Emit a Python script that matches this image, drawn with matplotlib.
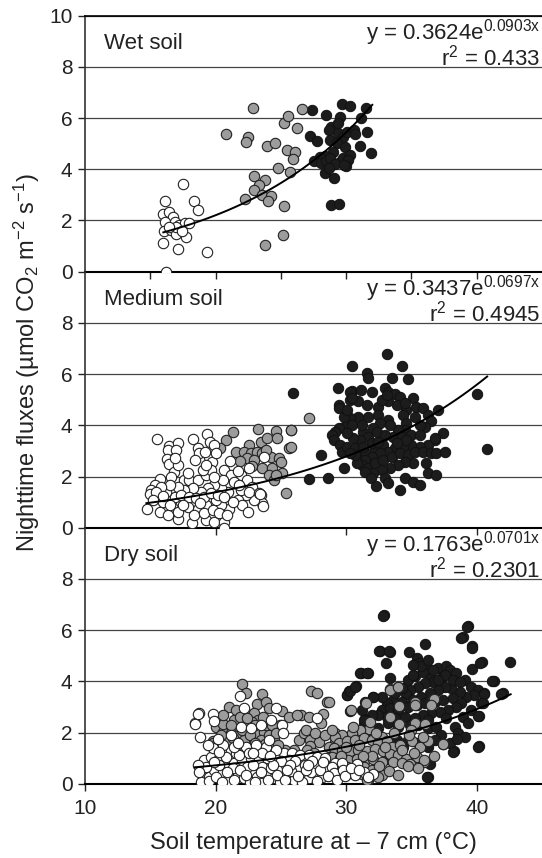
import numpy as np
import matplotlib
matplotlib.use("Agg")
import matplotlib.pyplot as plt

plt.rcParams['font.family'] = ['Liberation Sans', 'DejaVu Sans']
plt.rcParams['mathtext.fontset'] = 'custom'
plt.rcParams['mathtext.rm'] = 'Liberation Sans'
plt.rcParams['mathtext.it'] = 'Liberation Sans:italic'

# ---- data ----
# wet soil
wet_open = [(16.16, 2.76), (17.47, 3.44), (18.34, 2.76), (18.65, 2.40), (15.98, 2.24), (16.42, 2.32),
            (16.74, 2.15), (16.11, 1.95), (16.89, 1.95), (17.21, 1.82), (17.65, 1.91), (17.99, 1.91),
            (16.03, 1.59), (16.55, 1.63), (16.95, 1.46), (17.73, 1.37), (15.98, 1.13), (17.10, 0.87),
            (19.31, 0.78), (16.24, 0.0), (17.0, 1.76), (16.4, 1.75), (17.4, 1.6)]
wet_grey = [(20.83, 5.36), (22.84, 6.41), (22.45, 5.25), (22.35, 5.05), (23.97, 4.92), (24.55, 5.01),
            (25.26, 5.79), (25.54, 6.09), (26.64, 6.37), (26.25, 5.60), (25.44, 4.75), (26.12, 4.66),
            (25.91, 4.40), (24.81, 4.04), (25.68, 3.88), (22.92, 3.75), (23.76, 3.58), (23.32, 3.39),
            (22.98, 3.19), (23.55, 2.99), (24.28, 2.96), (22.27, 2.83), (24.02, 2.77), (25.26, 2.58),
            (25.20, 1.42), (23.81, 1.05)]
wet_black = [(27.38, 6.32), (28.48, 6.11), (29.66, 6.54), (30.26, 6.47), (31.49, 6.38), (29.53, 6.05),
             (31.10, 5.99), (28.87, 5.66), (29.40, 5.79), (28.66, 5.53), (27.22, 5.30), (27.75, 5.09),
             (28.74, 5.14), (29.40, 5.40), (29.79, 5.27), (30.05, 5.47), (30.58, 5.53), (30.71, 5.36),
             (31.63, 5.44), (29.27, 5.01), (29.92, 4.88), (31.05, 4.91), (31.89, 4.65), (29.01, 4.69),
             (28.35, 4.52), (27.96, 4.49), (27.56, 4.32), (28.09, 4.23), (28.48, 4.32), (28.79, 4.43),
             (29.53, 4.30), (29.79, 4.43), (30.31, 4.56), (30.18, 4.36), (29.99, 4.13), (28.35, 3.87),
             (29.14, 4.19), (29.08, 3.65), (28.82, 2.62), (29.48, 2.64), (29.85, 4.17), (28.72, 4.04)]

# medium soil
med_open = [(15.54, 3.45), (16.42, 3.20), (17.11, 3.29), (16.35, 3.03), (16.98, 3.03), (16.30, 2.68),
            (16.40, 2.47), (18.25, 3.46), (19.34, 3.65), (19.60, 3.36), (19.90, 3.23), (18.68, 3.10),
            (18.76, 2.90), (19.52, 2.77), (19.22, 2.97), (19.70, 2.58), (18.43, 2.64), (16.80, 2.19),
            (16.60, 1.99), (15.71, 1.89), (15.33, 1.67), (15.08, 1.47), (14.95, 1.30), (14.77, 0.75),
            (15.71, 0.60), (16.35, 0.49), (17.11, 0.34), (18.18, 0.17), (19.27, 0.30), (19.90, 0.23),
            (20.66, 0.23), (20.62, 0.0), (17.62, 1.86), (18.0, 1.86), (18.63, 1.86), (19.27, 2.06),
            (19.65, 2.25), (20.66, 2.25), (21.17, 2.06), (21.93, 2.06), (21.42, 1.80), (22.44, 1.86),
            (22.82, 1.60), (23.45, 1.28), (23.58, 0.95), (22.95, 1.08), (22.31, 1.28), (21.68, 1.08),
            (22.06, 0.89), (21.04, 0.75), (20.41, 0.89), (20.03, 1.08), (19.27, 0.89), (18.63, 0.75),
            (17.87, 0.82), (17.36, 1.02), (16.86, 1.21), (16.22, 1.41), (15.97, 1.02), (16.48, 0.89),
            (17.11, 0.62), (18.38, 0.49), (19.14, 0.56), (19.77, 0.69), (20.28, 0.56), (21.30, 1.02),
            (20.92, 1.41), (20.41, 1.54), (19.90, 1.67), (19.39, 1.54), (18.89, 1.41), (18.25, 1.54),
            (17.62, 1.47), (17.11, 1.60), (16.48, 1.67), (15.84, 1.60), (15.46, 1.41), (17.36, 1.28),
            (18.0, 1.21), (18.5, 1.15), (19.14, 1.21), (19.65, 1.34), (20.16, 1.28), (20.66, 1.21),
            (21.93, 1.47), (22.57, 1.41), (21.80, 1.67), (20.54, 1.86), (19.90, 1.99), (19.01, 2.25),
            (19.27, 2.45), (21.68, 2.21), (22.57, 2.32), (23.71, 2.77), (23.33, 1.34), (17.11, 2.45),
            (16.86, 2.71), (23.6, 0.85), (23.4, 1.30), (15.2, 1.1), (16.0, 1.25), (17.5, 0.9),
            (18.8, 0.95), (20.9, 0.5), (22.5, 0.6), (17.9, 2.15), (21.1, 2.6), (20.0, 2.9)]
med_grey = [(21.30, 3.75), (23.25, 3.85), (24.60, 3.78), (25.74, 3.81), (20.79, 3.42), (20.36, 3.12),
            (22.57, 3.23), (23.45, 3.36), (23.96, 3.49), (24.72, 3.52), (25.61, 3.12), (21.55, 2.97),
            (22.19, 2.94), (22.69, 2.90), (23.2, 2.97), (23.58, 2.90), (22.44, 2.71), (22.95, 2.64),
            (24.22, 2.77), (24.85, 2.73), (21.88, 2.60), (22.82, 2.42), (23.58, 2.34), (24.34, 2.32),
            (24.98, 2.55), (24.09, 2.06), (24.47, 1.86), (25.1, 2.12), (24.6, 2.06), (25.43, 1.34),
            (23.84, 3.03), (27.13, 4.30), (25.81, 3.82), (25.74, 3.17)]
med_black = [(25.91, 5.28), (33.15, 6.78), (30.43, 6.32), (34.29, 6.33), (31.57, 6.06), (31.65, 5.84),
             (33.48, 5.84), (34.70, 5.80), (29.37, 5.45), (30.43, 5.34), (31.14, 5.38), (31.96, 5.32),
             (32.97, 5.45), (33.22, 5.32), (33.73, 5.21), (34.11, 5.12), (35.13, 5.06), (40.03, 5.21),
             (29.42, 4.80), (29.47, 4.67), (30.31, 4.99), (30.94, 4.93), (31.57, 4.80), (32.46, 4.73),
             (33.22, 4.93), (33.86, 4.80), (34.62, 4.60), (35.38, 4.73), (35.89, 4.67), (37.03, 4.60),
             (36.27, 4.41), (35.25, 4.34), (34.37, 4.41), (33.22, 4.21), (32.46, 4.41), (31.70, 4.34),
             (30.94, 4.34), (30.31, 4.28), (29.80, 4.34), (36.52, 4.15), (36.02, 3.95), (35.64, 4.02),
             (34.62, 4.08), (34.49, 3.82), (33.99, 3.82), (33.35, 4.02), (32.59, 4.08), (32.08, 3.88),
             (31.32, 3.75), (31.70, 3.56), (31.07, 3.43), (30.56, 3.49), (29.80, 3.95), (29.42, 3.88),
             (29.16, 3.75), (28.91, 3.62), (29.04, 3.43), (29.54, 3.23), (29.67, 2.97), (30.05, 3.17),
             (30.69, 3.10), (30.94, 2.84), (31.45, 2.97), (32.21, 3.10), (32.85, 3.23), (33.61, 3.56),
             (34.24, 3.56), (35.00, 3.62), (35.64, 3.62), (37.41, 3.69), (36.78, 3.43), (36.27, 3.23),
             (35.64, 3.17), (35.00, 3.23), (34.37, 3.17), (33.73, 3.10), (33.22, 2.97), (32.59, 2.91),
             (31.96, 2.78), (31.45, 2.65), (31.20, 2.45), (31.70, 2.32), (32.21, 2.52), (32.85, 2.65),
             (33.48, 2.78), (34.11, 2.91), (34.75, 2.84), (35.25, 2.97), (35.89, 2.97), (36.52, 2.91),
             (36.90, 2.91), (37.59, 2.95), (36.14, 2.52), (35.13, 2.52), (34.49, 2.58), (33.99, 2.45),
             (33.35, 2.32), (32.72, 2.26), (32.08, 2.13), (31.45, 2.19), (30.81, 2.52), (30.69, 2.84),
             (29.87, 2.32), (28.07, 2.84), (27.18, 1.91), (28.60, 1.96), (31.90, 1.93), (32.26, 1.61),
             (32.97, 1.93), (33.22, 1.74), (34.11, 1.48), (34.49, 1.93), (35.13, 1.80), (35.64, 1.67),
             (36.27, 2.13), (36.90, 2.06), (40.79, 3.08), (36.78, 3.49), (30.31, 5.32), (30.43, 5.06),
             (32.72, 4.99), (33.1, 5.19), (34.49, 4.86), (30.05, 4.60), (32.34, 3.75), (32.97, 3.62),
             (30.43, 4.02), (31.2, 4.02), (30.05, 3.69), (31.96, 3.30), (31.32, 3.17), (30.3, 2.91),
             (32.46, 3.36), (34.62, 3.43), (33.86, 3.30)]

# dry soil
dry_open = [(18.71, 2.77), (18.46, 2.36), (18.81, 1.81), (19.78, 2.71), (19.91, 2.45), (21.88, 3.42),
            (22.19, 2.94), (24.6, 2.94), (25.1, 2.29), (25.16, 1.99), (27.77, 2.55), (21.94, 2.23),
            (22.7, 2.16), (24.22, 2.49), (23.46, 2.29), (21.05, 1.32), (20.41, 1.25), (21.55, 1.19),
            (22.32, 1.45), (23.08, 1.51), (23.84, 1.45), (19.14, 0.92), (19.65, 1.05), (20.16, 0.92),
            (20.79, 0.86), (21.43, 0.79), (22.06, 0.92), (22.7, 0.99), (23.33, 0.92), (23.97, 0.99),
            (24.6, 1.05), (25.24, 1.19), (25.87, 1.19), (26.5, 1.12), (27.14, 1.12), (27.77, 1.05),
            (28.41, 0.99), (29.17, 0.79), (19.02, 0.27), (19.52, 0.27), (19.91, 0.53), (20.54, 0.47),
            (21.05, 0.27), (21.68, 0.40), (22.19, 0.21), (22.7, 0.47), (23.2, 0.27), (23.84, 0.34),
            (24.47, 0.21), (24.85, 0.53), (25.49, 0.40), (26.0, 0.14), (26.63, 0.40), (27.14, 0.21),
            (27.65, 0.47), (28.15, 0.27), (28.79, 0.53), (19.27, 0.66), (20.29, 0.73), (21.3, 0.60),
            (22.44, 0.66), (23.59, 0.66), (24.22, 0.60), (25.36, 0.73), (26.25, 0.66), (26.88, 0.73),
            (27.52, 0.73), (28.53, 0.66), (18.89, 0.08), (23.59, 0.01), (20.79, 1.05), (21.81, 1.12),
            (22.57, 1.19), (23.59, 1.19), (24.6, 1.32), (25.62, 0.92), (19.78, 1.38), (20.54, 1.51),
            (21.43, 1.45), (19.91, 0.86), (18.64, 0.73), (18.76, 0.47), (28.91, 0.67), (29.42, 0.41),
            (30.06, 0.47), (30.69, 0.34), (29.68, 0.80), (29.04, 0.41), (31.36, 0.45), (32.02, 0.39),
            (30.84, 0.78), (29.79, 0.52), (18.65, 2.73), (18.44, 2.34), (20.2, 1.75), (21.2, 1.9),
            (24.1, 1.7), (25.0, 0.9), (26.1, 0.9), (27.3, 0.45), (25.8, 0.5), (24.0, 0.15), (20.9, 0.1),
            (26.6, 0.05), (27.8, 0.1), (22.6, 0.05), (24.9, 0.05),
            (19.5, 0.1), (20.0, 0.25), (20.5, 0.05), (21.4, 0.15), (21.9, 0.55), (22.3, 0.35),
            (22.9, 0.75), (23.5, 0.45), (24.4, 0.75), (24.7, 0.35), (25.3, 0.15), (25.7, 0.75),
            (26.3, 0.3), (26.9, 0.55), (27.4, 0.9), (28.0, 0.55), (28.6, 0.3), (29.3, 0.15),
            (29.9, 0.3), (30.4, 0.6), (31.0, 0.55), (31.7, 0.25), (20.3, 1.25), (21.7, 1.6),
            (22.9, 1.2), (24.2, 1.1), (19.4, 1.5), (20.9, 0.45), (23.0, 0.05), (25.5, 0.55),
            (27.1, 0.75), (28.2, 0.85)]
dry_grey = [(22.06, 3.89), (22.32, 3.55), (21.05, 3.01), (21.55, 2.88), (23.15, 3.11), (23.59, 3.50),
            (23.89, 3.20), (24.09, 2.94), (25.1, 2.85), (25.62, 2.62), (27.34, 3.63), (27.77, 3.55),
            (28.53, 3.20), (26.58, 2.68), (27.14, 2.59), (28.2, 2.72), (28.1, 2.38), (22.57, 2.68),
            (22.95, 2.75), (23.28, 2.49), (22.77, 2.42), (22.19, 2.29), (21.43, 2.49), (20.41, 2.36),
            (20.03, 2.23), (20.54, 2.03), (21.17, 1.97), (21.81, 1.90), (22.44, 2.03), (23.08, 1.97),
            (23.71, 2.03), (23.89, 2.29), (23.46, 1.71), (22.82, 1.64), (22.19, 1.71), (21.55, 1.64),
            (20.92, 1.71), (19.78, 1.68), (24.47, 1.71), (24.09, 1.90), (24.35, 1.38), (23.33, 1.32),
            (22.57, 1.32), (26.38, 1.71), (26.76, 1.97), (27.27, 1.71), (27.9, 1.64), (27.27, 1.47),
            (27.01, 1.32), (26.0, 1.32), (29.17, 1.97), (29.17, 1.64), (28.66, 1.45), (28.79, 1.05),
            (28.41, 0.79), (29.17, 1.19), (19.83, 1.58), (20.1, 1.55), (20.6, 2.34),
            (33.36, 3.69), (34.0, 3.77), (36.73, 3.30), (35.31, 3.21), (31.5, 3.14), (30.39, 2.88),
            (28.66, 3.21), (34.04, 3.04), (33.36, 2.62), (34.04, 2.34), (35.26, 2.39), (36.07, 2.34),
            (32.77, 1.84), (31.76, 2.13), (31.07, 2.10), (30.44, 1.97), (29.68, 1.91), (29.17, 1.84),
            (29.42, 1.58), (30.06, 1.65), (30.69, 1.71), (31.33, 1.78), (31.96, 1.71), (32.47, 1.58),
            (33.1, 1.65), (33.48, 1.45), (34.12, 1.52), (35.01, 1.65), (35.64, 1.45), (36.27, 1.65),
            (35.89, 1.84), (37.42, 1.55), (29.04, 1.39), (29.68, 1.32), (30.31, 1.26), (30.94, 1.32),
            (31.58, 1.26), (32.21, 1.35), (32.85, 1.26), (33.36, 1.16), (33.99, 1.13), (34.62, 0.96),
            (35.39, 1.06), (35.97, 0.86), (28.91, 1.06), (29.55, 0.99), (30.18, 0.93), (30.82, 0.96),
            (31.45, 0.93), (32.09, 0.96), (32.72, 0.86), (33.61, 0.83), (34.24, 0.80), (34.88, 0.77),
            (29.29, 0.73), (30.06, 0.67), (30.69, 0.60), (31.33, 0.67), (31.96, 0.54), (32.47, 0.41),
            (31.71, 0.15), (32.72, 0.34), (31.2, 0.38), (31.62, 0.13), (32.41, 0.26), (33.33, 3.66),
            (33.98, 3.77), (34.77, 0.71), (35.95, 0.91), (37.39, 1.56), (36.47, 3.09), (35.3, 3.09),
            (35.0, 2.08), (26.9, 2.1), (27.6, 2.0), (28.4, 1.9), (25.3, 1.3), (24.9, 2.3), (21.9, 2.6),
            (20.6, 2.7), (21.2, 2.3), (22.0, 2.1), (22.6, 1.9), (23.0, 2.3), (23.6, 2.6), (24.3, 2.3),
            (24.6, 2.0), (21.8, 1.4), (23.0, 1.6), (20.4, 1.9), (22.4, 2.55), (23.8, 1.55), (21.3, 1.8),
            (24.8, 1.5), (26.2, 2.7), (25.8, 1.1), (27.5, 1.2), (28.9, 2.1),
            (30.0, 1.45), (31.0, 1.5), (32.0, 1.1), (33.0, 1.45), (34.3, 1.3), (35.2, 1.2), (30.5, 2.2),
            (31.8, 2.4), (32.3, 2.0), (33.7, 2.0), (34.8, 1.9), (29.6, 1.1), (31.3, 1.1), (32.5, 0.7),
            (33.3, 0.5), (34.0, 0.35), (30.3, 0.4), (29.0, 0.55), (35.5, 0.6), (36.7, 1.1)]
dry_black = [(32.92, 6.59), (39.37, 6.16), (38.94, 5.75), (39.62, 5.36), (36.02, 5.45), (32.59, 5.20),
             (33.36, 5.16), (34.80, 5.14), (35.46, 4.90), (35.56, 4.71), (36.15, 4.64), (33.03, 4.71),
             (40.39, 4.76), (39.62, 4.47), (42.0, 3.56), (41.3, 4.03), (42.56, 4.74), (31.12, 4.34),
             (31.71, 4.34), (33.36, 4.12), (30.74, 3.82), (30.23, 3.64), (30.06, 3.47), (32.09, 3.38),
             (34.75, 4.05), (35.31, 4.19), (36.4, 4.25), (37.04, 4.51), (37.67, 4.58), (37.92, 4.45),
             (38.43, 4.32), (37.34, 4.16), (36.65, 3.99), (36.02, 3.92), (35.51, 3.77), (34.88, 3.66),
             (34.55, 3.51), (39.07, 4.05), (39.58, 3.79), (40.13, 3.66), (40.59, 3.53), (39.83, 3.47),
             (39.19, 3.40), (38.69, 3.60), (38.05, 3.73), (37.54, 3.79), (37.04, 3.66), (36.4, 3.53),
             (35.77, 3.40), (35.13, 3.27), (34.24, 3.21), (33.61, 3.27), (33.10, 3.14), (32.72, 2.88),
             (33.36, 2.95), (33.99, 2.88), (34.75, 3.01), (35.39, 3.08), (36.02, 3.14), (36.78, 3.21),
             (37.42, 3.27), (38.18, 3.34), (38.81, 3.14), (38.43, 3.01), (37.8, 2.88), (37.16, 2.82),
             (36.53, 2.75), (35.89, 2.69), (35.26, 2.56), (34.5, 2.62), (33.74, 2.56), (33.1, 2.62),
             (32.47, 2.69), (31.96, 2.69), (31.45, 2.52), (31.4, 2.34), (33.23, 2.36), (33.99, 2.23),
             (34.88, 2.30), (35.51, 2.30), (36.27, 2.17), (36.91, 2.23), (36.27, 2.49), (38.31, 2.23),
             (38.56, 1.97), (39.07, 1.84), (40.21, 2.65), (38.25, 1.26), (40.21, 1.49), (37.29, 1.91),
             (36.78, 1.71), (36.27, 1.45), (35.51, 1.58), (34.75, 1.71), (33.86, 1.71), (34.37, 1.45),
             (33.74, 1.19), (33.10, 0.96), (36.4, 0.77), (36.27, 0.28), (32.47, 2.17), (31.71, 1.97),
             (32.21, 1.71), (37.92, 1.58), (37.67, 2.56), (38.94, 2.62), (39.58, 2.88), (39.32, 2.36),
             (37.54, 4.25), (36.65, 4.45), (35.89, 4.38), (35.13, 4.25), (34.3, 3.73), (33.74, 3.53),
             (32.72, 3.40), (31.45, 3.21), (31.2, 2.88), (35.72, 4.58), (35.13, 4.64), (36.27, 4.84),
             (37.04, 4.06), (38.18, 4.06), (38.69, 3.99), (40.34, 3.14), (41.85, 3.51), (41.2, 4.0),
             (40.54, 3.51), (40.5, 3.16), (40.1, 2.64), (40.1, 1.45), (38.83, 5.69), (39.23, 6.13),
             (39.62, 5.32), (40.28, 4.71), (38.46, 1.75), (38.2, 1.23), (36.21, 0.26), (30.05, 3.48),
             (30.31, 3.64), (30.71, 3.79), (31.05, 4.31), (31.63, 4.31), (30.31, 2.83), (31.36, 2.47),
             (32.02, 3.38), (32.54, 5.17), (33.28, 5.17), (32.86, 6.55)]

panel_names = ['Wet soil', 'Medium soil', 'Dry soil']
fit_a = [0.3624, 0.3437, 0.1763]
fit_b = [0.0903, 0.0697, 0.0701]
fit_r2 = ['0.433', '0.4945', '0.2301']
fit_range = [(16.0, 32.0), (14.7, 40.8), (18.4, 42.6)]

groups = [(wet_open, wet_grey, wet_black),
          (med_open, med_grey, med_black),
          (dry_open, dry_grey, dry_black)]

# ---- figure ----
W, H = 542, 858
fig = plt.figure(figsize=(W / 100, H / 100), dpi=100)
left = 85 / W
width = 1 - left
ph = 256 / H
bottoms = [1 - 271.7 / H, 1 - 527.7 / H, 1 - 783.7 / H]

for i in range(3):
    ax = fig.add_axes([left, bottoms[i], width, ph])
    op, gr, bl = [np.array(g) for g in groups[i]]
    ms = 56
    ax.scatter(bl[:, 0], bl[:, 1], s=ms, facecolor='#1c1c1c', edgecolor='#111111', linewidth=0.7, zorder=3)
    ax.scatter(gr[:, 0], gr[:, 1], s=ms, facecolor='#9c9c9c', edgecolor='#222222', linewidth=0.8, zorder=3)
    ax.scatter(op[:, 0], op[:, 1], s=ms, facecolor='white', edgecolor='#222222', linewidth=0.8, zorder=3)
    xf = np.linspace(fit_range[i][0], fit_range[i][1], 100)
    ax.plot(xf, fit_a[i] * np.exp(fit_b[i] * xf), color='black', lw=1.4, zorder=4)

    ax.set_xlim(10, 45)
    ax.set_ylim(0, 10)
    if i == 0:
        ax.set_yticks([0, 2, 4, 6, 8, 10])
        ax.set_xticks([15, 20, 25, 30, 35, 40])
    else:
        ax.set_yticks([0, 2, 4, 6, 8])
        ax.set_xticks([20, 30, 40] if i == 1 else [10, 20, 30, 40])
    if i < 2:
        ax.tick_params(axis='x', labelbottom=False)
    ax.grid(axis='y', color='#444444', lw=0.9)
    ax.set_axisbelow(True)
    ax.spines['right'].set_visible(False)
    ax.spines['top'].set_visible(i == 0)
    ax.spines['top'].set_linewidth(1.2)
    ax.spines['bottom'].set_linewidth(1.5)
    ax.spines['left'].set_linewidth(1.2)
    ax.spines['left'].set_color('#333333')
    ax.tick_params(direction='out', length=5, width=1, labelsize=15, colors='#222222', pad=4)
    ax.tick_params(axis='x', pad=6)
    ax.patch.set_alpha(0)

    ax.text(0.042, 0.89, panel_names[i], transform=ax.transAxes, fontsize=16,
            ha='left', va='center', color='#222222')
    eq = ('y = %se$^{\\mathregular{%sx}}$\n' % (fit_a[i], fit_b[i])
          + 'r$^{\\mathregular{2}}$ = %s' % fit_r2[i])
    ax.text(0.996, 0.807, eq, transform=ax.transAxes, fontsize=16, ha='right',
            va='baseline', multialignment='right', linespacing=0.81, color='#222222')

fig.text(27 / W, 1 - 363 / H,
         'Nighttime fluxes (\u00b5mol CO$_{\\mathregular{2}}$ m$^{\\mathregular{-2}}$ s$^{\\mathregular{-1}}$)',
         rotation=90, ha='center', va='center', fontsize=17, color='#222222')
fig.text((85 + 542) / 2 / W, 1 - 843 / H, 'Soil temperature at \u2013 7 cm (\u00b0C)',
         ha='center', va='center', fontsize=17, color='#222222')

fig.savefig('out.png', dpi=100)
